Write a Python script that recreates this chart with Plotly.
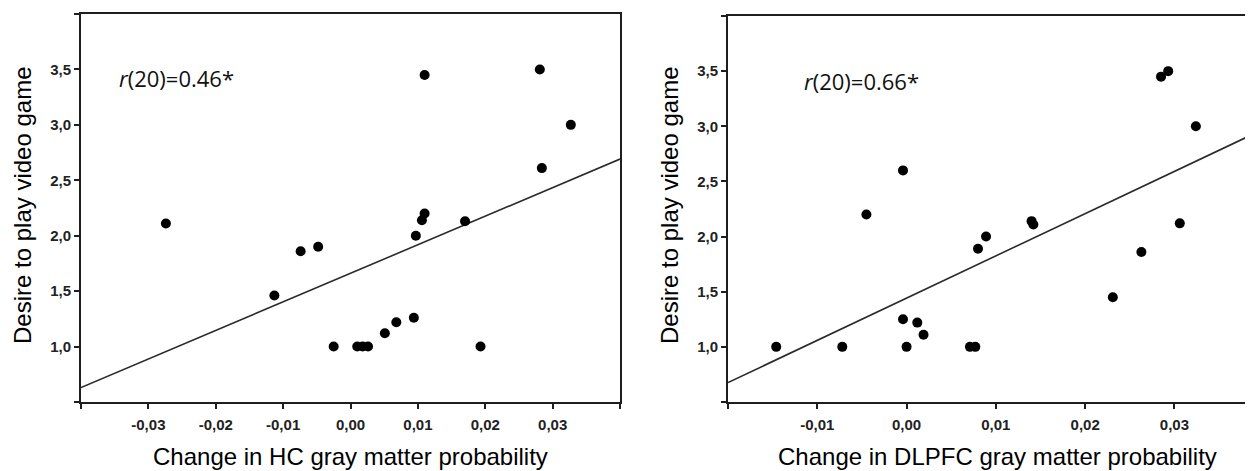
import plotly.graph_objects as go

# ---------------- data ----------------
hc_x = [-0.0274, -0.0113, -0.0074, -0.0048, -0.0025, 0.0010, 0.0018, 0.0026,
        0.0051, 0.0068, 0.0094, 0.0193, 0.0097, 0.0106, 0.0110, 0.0170,
        0.0110, 0.0281, 0.0327, 0.0284]
hc_y = [2.11, 1.46, 1.86, 1.90, 1.00, 1.00, 1.00, 1.00,
        1.12, 1.22, 1.26, 1.00, 2.00, 2.14, 2.20, 2.13,
        3.45, 3.50, 3.00, 2.61]

dlpfc_x = [-0.0146, -0.0072, -0.0045, -0.0004, -0.0004, 0.0000, 0.0012, 0.0019,
           0.0071, 0.0077, 0.0080, 0.0089, 0.0140, 0.0142, 0.0231, 0.0263,
           0.0306, 0.0324, 0.0285, 0.0293]
dlpfc_y = [1.00, 1.00, 2.20, 2.60, 1.25, 1.00, 1.22, 1.11,
           1.00, 1.00, 1.89, 2.00, 2.14, 2.11, 1.45, 1.86,
           2.12, 3.00, 3.45, 3.50]

# regression lines (slope, intercept)
hc_fit = (25.76, 1.661)
dlpfc_fit = (38.3, 1.442)

hc_r_label = "<i>r</i>(20)=0.46*"
dlpfc_r_label = "<i>r</i>(20)=0.66*"

y_tickvals = [0.5, 1.0, 1.5, 2.0, 2.5, 3.0, 3.5, 4.0]
y_ticktext = ["", "1,0", "1,5", "2,0", "2,5", "3,0", "3,5", ""]
hc_x_tickvals = [-0.04, -0.03, -0.02, -0.01, 0.00, 0.01, 0.02, 0.03, 0.04]
hc_x_ticktext = ["", "-0,03", "-0,02", "-0,01", "0,00", "0,01", "0,02", "0,03", ""]
dl_x_tickvals = [-0.02, -0.01, 0.00, 0.01, 0.02, 0.03]
dl_x_ticktext = ["", "-0,01", "0,00", "0,01", "0,02", "0,03"]

y_title = "Desire to play video game"
hc_x_title = "Change in HC gray matter probability"
dl_x_title = "Change in DLPFC gray matter probability"

# ---------------- layout geometry ----------------
# the page body adds an 8px margin, so the figure is drawn 8px in from the top-left
OFF = 8
W, H = 1253 - OFF, 471 - OFF
hc_xrange = [-0.04, 0.04]
dl_xrange = [-0.02, 0.0388]
yrange = [0.5, 4.0]

def px(x):
    return (x - OFF) / W

def py(y):
    return 1 - (y - OFF) / H

fig = go.Figure()

marker = dict(color="black", size=10, line=dict(width=0))
linestyle = dict(color="#2a2a2a", width=1.6)

for xs, ys, fit, xr, xa, ya in [
    (hc_x, hc_y, hc_fit, hc_xrange, "x", "y"),
    (dlpfc_x, dlpfc_y, dlpfc_fit, dl_xrange, "x2", "y2"),
]:
    fig.add_trace(go.Scatter(
        x=xr, y=[fit[0] * v + fit[1] for v in xr], mode="lines",
        line=linestyle, xaxis=xa, yaxis=ya, showlegend=False, hoverinfo="skip"))
    fig.add_trace(go.Scatter(
        x=xs, y=ys, mode="markers", marker=marker,
        xaxis=xa, yaxis=ya, showlegend=False))

tickfont = dict(family="Liberation Sans, Arial", size=15, color="#222", weight="bold")
axis_common = dict(
    showgrid=False, zeroline=False, showline=True, linewidth=2,
    linecolor="#1e1e1e", ticks="outside", ticklen=5, tickwidth=2,
    tickcolor="#1e1e1e", tickfont=tickfont,
)

fig.update_layout(
    width=W, height=H,
    margin=dict(l=0, r=0, t=0, b=0),
    paper_bgcolor="white", plot_bgcolor="white",
    xaxis=dict(domain=[px(81), px(620)], range=hc_xrange, tickmode="array",
               tickvals=hc_x_tickvals, ticktext=hc_x_ticktext, mirror=True,
               anchor="y", ticklabelstandoff=3, **axis_common),
    yaxis=dict(domain=[py(402), py(14)], range=yrange, tickmode="array",
               tickvals=y_tickvals, ticktext=y_ticktext, mirror=True,
               anchor="x", **axis_common),
    xaxis2=dict(domain=[px(728), 1.0], range=dl_xrange, tickmode="array",
                tickvals=dl_x_tickvals, ticktext=dl_x_ticktext, mirror=True,
                anchor="y2", ticklabelstandoff=3, **axis_common),
    yaxis2=dict(domain=[py(402), py(16)], range=yrange, tickmode="array",
                tickvals=y_tickvals, ticktext=y_ticktext, mirror=False,
                anchor="x2", **axis_common),
)

title_font = dict(family="Liberation Sans, Arial", size=24, color="#000")
r_font = dict(family="Open Sans", size=22, color="#111")

annotations = [
    dict(text=y_title, x=px(22), y=py(206), textangle=-90, font=title_font),
    dict(text=y_title, x=px(669), y=py(206), textangle=-90, font=title_font),
    dict(text=hc_x_title, x=px(351), y=py(456), font=title_font),
    dict(text=dl_x_title, x=px(997), y=py(456), font=title_font),
    dict(text=hc_r_label, x=px(117), y=py(78), xanchor="left", font=r_font),
    dict(text=dlpfc_r_label, x=px(802), y=py(81), xanchor="left", font=r_font),
]
for a in annotations:
    a.setdefault("xanchor", "center")
    a.update(xref="paper", yref="paper", yanchor="middle", showarrow=False)
fig.update_layout(annotations=annotations)

fig.write_html("out.html")
